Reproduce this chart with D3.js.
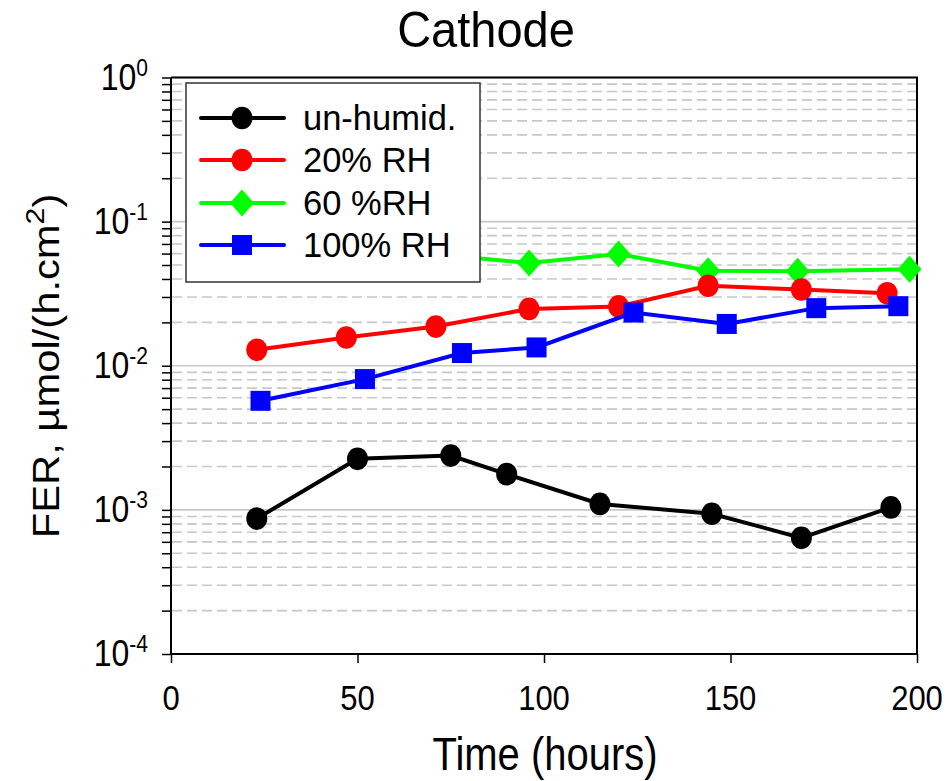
<!DOCTYPE html>
<html><head><meta charset="utf-8">
<script src="https://cdn.jsdelivr.net/npm/d3@7"></script>
<style>body{margin:0;background:#fff}svg{display:block;font-family:"Liberation Sans",Arial,sans-serif}</style>
</head><body>
<svg id="c" width="950" height="781"></svg>
<script>
// ---- data ----
const seriesNames = ["un-humid.", "20% RH", "60 %RH", "100% RH"];
const seriesColors = ["#000000", "#ff0000", "#00ff00", "#0000ff"];
const seriesShapes = ["circle", "circle", "diamond", "square"];
const hoursUnhumid = [23, 50, 75, 90, 115, 145, 169, 193];
const ferUnhumid   = [0.00087, 0.00226, 0.00238, 0.00177, 0.00110, 0.00094, 0.00064, 0.00104];
const hours20RH    = [23, 47, 71, 96, 120, 144, 169, 192];
const fer20RH      = [0.0129, 0.0157, 0.0187, 0.0248, 0.0258, 0.0359, 0.0338, 0.0318];
const hours60RH    = [25, 50, 75, 96, 120, 144, 168, 198];
const fer60RH      = [0.047, 0.053, 0.058, 0.0516, 0.0596, 0.0457, 0.0452, 0.0467];
const hours100RH   = [24, 52, 78, 98, 124, 149, 173, 195];
const fer100RH     = [0.00571, 0.00808, 0.01225, 0.0134, 0.0234, 0.0195, 0.0251, 0.0259];
const xTicks = [0, 50, 100, 150, 200];
const yTickExps = [0, -1, -2, -3, -4];
const titleText = "Cathode";
const xLabel = "Time (hours)";

const seriesX = [hoursUnhumid, hours20RH, hours60RH, hours100RH];
const seriesY = [ferUnhumid, fer20RH, fer60RH, fer100RH];

// ---- layout ----
const L = 171, R = 917, T = 77.5, B = 654;
const svg = d3.select("#c");
const x = d3.scaleLinear().domain([0, 200]).range([L, R]);
const y = d3.scaleLog().domain([1e-4, 1]).range([B, T]);

// gridlines
const minor = [];
for (let e = -4; e < 0; e++) for (let m = 2; m <= 9; m++) minor.push(m * Math.pow(10, e));
const grid = svg.append("g");
grid.selectAll("line.minor").data(minor).join("line")
  .attr("x1", L + 1).attr("x2", R - 1).attr("y1", d => y(d)).attr("y2", d => y(d))
  .attr("stroke", "#c8c8c8").attr("stroke-width", 1.6).attr("stroke-dasharray", "10,5");
grid.selectAll("line.major").data(yTickExps.map(e => Math.pow(10, e))).join("line")
  .attr("x1", L + 1).attr("x2", R - 1).attr("y1", d => y(d)).attr("y2", d => y(d))
  .attr("stroke", "#c8c8c8").attr("stroke-width", 1.6);

// axes
const yAxis = d3.axisLeft(y).tickValues(yTickExps.map(e => Math.pow(10, e)).concat(minor))
  .tickSize(9).tickFormat("");
svg.append("g").attr("transform", `translate(${L},0)`).call(yAxis)
  .call(g => g.selectAll("line").attr("stroke", "#000").attr("stroke-width", 1.5))
  .call(g => g.select(".domain").attr("stroke", "#000").attr("stroke-width", 2).attr("d", `M0,${B}V${T}`));
const xAxis = d3.axisBottom(x).tickValues(xTicks).tickSize(9).tickFormat("");
svg.append("g").attr("transform", `translate(0,${B})`).call(xAxis)
  .call(g => g.selectAll("line").attr("stroke", "#000").attr("stroke-width", 1.5))
  .call(g => g.select(".domain").attr("stroke", "#000").attr("stroke-width", 2).attr("d", `M${L},0H${R}`));
// frame top/right
svg.append("path").attr("d", `M${L},${T}H${R}V${B}`).attr("fill", "none").attr("stroke", "#000").attr("stroke-width", 2);

const SY = 1.16; // vertical stretch of the original text

// tick labels
svg.append("g").selectAll("text").data(xTicks).join("text")
  .attr("transform", d => `translate(${x(d)},710) scale(1,${SY})`).attr("text-anchor", "middle")
  .attr("font-size", 31).text(d => d);
const yl = svg.append("g").selectAll("text").data(yTickExps).join("text")
  .attr("transform", d => `translate(148,${y(Math.pow(10, d)) + 12}) scale(1,${SY})`)
  .attr("text-anchor", "end").attr("font-size", 32);
yl.append("tspan").text("10");
yl.append("tspan").attr("dy", -12).attr("font-size", 21).text(d => d === 0 ? "0" : String(d));

// titles
svg.append("text").attr("transform", `translate(486,47) scale(1,1.06)`).attr("text-anchor", "middle").attr("font-size", 47).text(titleText);
svg.append("text").attr("transform", `translate(545,770) scale(1,${SY})`).attr("text-anchor", "middle").attr("font-size", 40).text(xLabel);
const yt = svg.append("text").attr("transform", `translate(59,366) rotate(-90) scale(${SY},1)`).attr("text-anchor", "middle").attr("font-size", 36);
yt.append("tspan").text("FER, \u00b5mol/(h.cm");
yt.append("tspan").attr("dy", -15).attr("font-size", 26).text("2");
yt.append("tspan").attr("dy", 15).text(")");

// markers
function marker(sel, shape, color, size) {
  if (shape === "circle") sel.append("ellipse").attr("rx", size).attr("ry", size * 1.08).attr("fill", color);
  else if (shape === "square") sel.append("rect").attr("x", -size).attr("y", -size).attr("width", 2 * size).attr("height", 2 * size).attr("fill", color);
  else sel.append("path").attr("d", `M0,${-size * 1.35}L${size * 1.2},0L0,${size * 1.35}L${-size * 1.2},0Z`).attr("fill", color);
}
const line = d3.line().x(d => x(d[0])).y(d => y(d[1]));
const order = [2, 1, 3, 0];
order.forEach(i => {
  const pts = seriesX[i].map((h, k) => [h, seriesY[i][k]]);
  const g = svg.append("g");
  g.append("path").datum(pts).attr("d", line).attr("fill", "none").attr("stroke", seriesColors[i]).attr("stroke-width", 4);
  pts.forEach(p => {
    const m = g.append("g").attr("transform", `translate(${x(p[0])},${y(p[1])})`);
    marker(m, seriesShapes[i], seriesColors[i], seriesShapes[i] === "circle" ? 10.5 : 10);
  });
});

// legend
const lg = svg.append("g");
lg.append("rect").attr("x", 186).attr("y", 83).attr("width", 294).attr("height", 199)
  .attr("fill", "#fff").attr("stroke", "#333").attr("stroke-width", 1.5);
const rowsY = [118, 160, 203, 245];
seriesNames.forEach((n, i) => {
  lg.append("line").attr("x1", 201).attr("x2", 284).attr("y1", rowsY[i]).attr("y2", rowsY[i])
    .attr("stroke", seriesColors[i]).attr("stroke-width", 4).attr("stroke-linecap", "round");
  const m = lg.append("g").attr("transform", `translate(242,${rowsY[i]})`);
  marker(m, seriesShapes[i], seriesColors[i], seriesShapes[i] === "circle" ? 10.5 : 10);
  lg.append("text").attr("x", 303).attr("y", rowsY[i] + 12).attr("font-size", 34.5).text(n);
});
</script>
</body></html>
